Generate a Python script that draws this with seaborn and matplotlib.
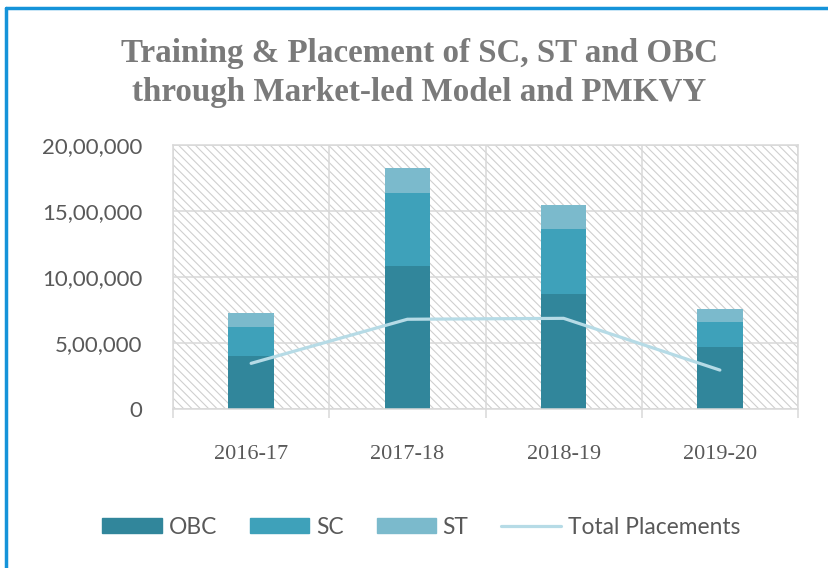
import numpy as np
import matplotlib
matplotlib.use("Agg")
import matplotlib.pyplot as plt
import seaborn as sns
from matplotlib.patches import Rectangle, Patch
from matplotlib.lines import Line2D
from matplotlib.ticker import FuncFormatter, FixedLocator

# data
years = ["2016-17", "2017-18", "2018-19", "2019-20"]
obc = [401000, 1083000, 869000, 467000]
sc = [218000, 551000, 492000, 195000]
st = [108000, 189000, 184000, 93000]
placements = [346000, 680000, 687000, 295000]

# colours
obc_color = "#31869b"
sc_color = "#3ea1ba"
st_color = "#7bbacc"
line_color = "#b6dbe6"
grid_color = "#d9d9d9"
hatch_color = "#cfcfcf"
text_color = "#595959"


def indian_format(v, pos):
    """20,00,000 style grouping"""
    s = str(int(round(v)))
    if len(s) <= 3:
        return s
    last3, rest = s[-3:], s[:-3]
    groups = []
    while len(rest) > 2:
        groups.insert(0, rest[-2:])
        rest = rest[:-2]
    if rest:
        groups.insert(0, rest)
    return ",".join(groups + [last3])


sns.set_style("white")
plt.rcParams["font.family"] = ["Lato", "DejaVu Sans"]
plt.rcParams["hatch.linewidth"] = 0.8
plt.rcParams["hatch.color"] = hatch_color

fig = plt.figure(figsize=(8.29, 5.68), dpi=100)
ax = fig.add_axes([0.2087, 0.2799, 0.7539, 0.4648])

# hatched plot area
ax.add_patch(Rectangle((0, 0), 1, 1, transform=ax.transAxes, facecolor="white",
                       edgecolor=hatch_color, hatch="\\\\\\\\", linewidth=0, zorder=0))

# stacked bars, drawn back to front from cumulative totals
top_st = np.array(obc) + np.array(sc) + np.array(st)
top_sc = np.array(obc) + np.array(sc)
for vals, col in [(top_st, st_color), (top_sc, sc_color), (obc, obc_color)]:
    sns.barplot(x=years, y=vals, color=col, saturation=1, width=0.29,
                errorbar=None, ax=ax, zorder=2, linewidth=0)
sns.lineplot(x=years, y=placements, color=line_color, linewidth=2.3, ax=ax,
             zorder=3, sort=False)

ax.set_xlim(-0.5, 3.5)
ax.set_ylim(0, 2000000)
ax.set_yticks(np.arange(0, 2000001, 500000))
ax.yaxis.set_major_formatter(FuncFormatter(indian_format))
ax.xaxis.set_minor_locator(FixedLocator(np.arange(-0.5, 4, 1)))
ax.set_axisbelow(True)
ax.grid(False)
ax.yaxis.grid(True, color=grid_color, linewidth=1.1, zorder=1)
ax.xaxis.grid(True, which="minor", color=grid_color, linewidth=1.1, zorder=1)
ax.tick_params(axis="x", which="minor", length=6.5, width=1.1, color=grid_color,
               direction="out", bottom=True)
ax.tick_params(axis="x", which="major", length=0, pad=26)
ax.tick_params(axis="y", length=0, pad=22, labelsize=16, labelcolor=text_color)
for lab in ax.get_xticklabels():
    lab.set_fontfamily("Liberation Serif")
    lab.set_fontsize(16)
    lab.set_color(text_color)
for sp in ax.spines.values():
    sp.set_color(grid_color)
    sp.set_linewidth(1.1)
ax.set_xlabel("")
ax.set_ylabel("")

fig.text(0.506, 0.872, "Training & Placement of SC, ST and OBC\nthrough Market-led Model and PMKVY",
         ha="center", va="center", fontsize=23.8, fontweight="bold",
         family="Liberation Serif", color="#7a7a7a", linespacing=1.35)

handles = [Patch(color=obc_color), Patch(color=sc_color), Patch(color=st_color),
           Line2D([], [], color=line_color, linewidth=2.3)]
fig.legend(handles, ["OBC", "SC", "ST", "Total Placements"], loc="center",
           bbox_to_anchor=(0.508, 0.072), ncol=4, frameon=False, fontsize=16.4,
           labelcolor=text_color, handlelength=2.6, handleheight=0.65,
           handletextpad=0.3, columnspacing=1.45)

# blue frame on top and left edges
fig.add_artist(Line2D([0.007, 1.0], [0.986, 0.986], color="#1593d9", linewidth=2.5,
                      transform=fig.transFigure))
fig.add_artist(Line2D([0.007, 0.007], [0.0, 0.986], color="#1593d9", linewidth=2.5,
                      transform=fig.transFigure))

fig.savefig("out.png", dpi=100)
